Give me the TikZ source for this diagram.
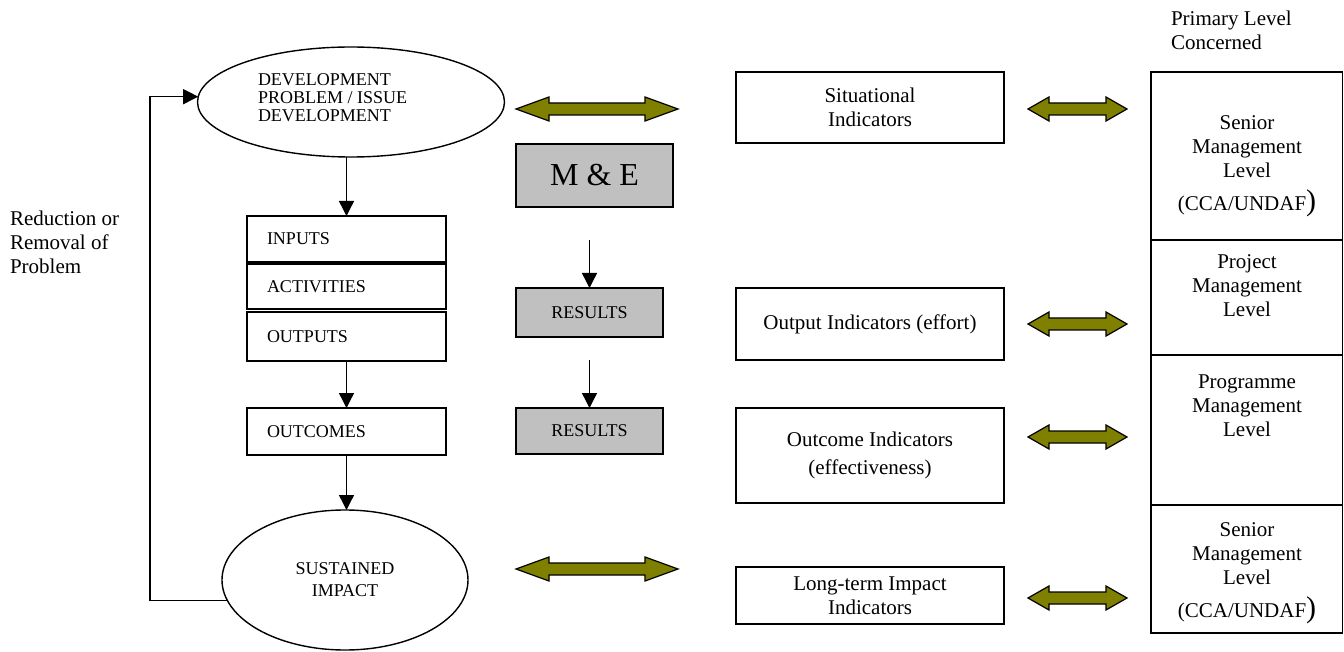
\documentclass[tikz,border=0pt]{standalone}
\usepackage{fontspec}
\setmainfont{Liberation Serif}
\usetikzlibrary{shapes.geometric,arrows.meta}
\definecolor{olivec}{HTML}{808000}
\definecolor{grayc}{HTML}{C0C0C0}
\tikzset{
  pics/dblarrow/.style 2 args={code={
    \draw[dbl] (-#1/2,0) -- (-#1/2+#2,-12) -- (-#1/2+#2,-6) -- (#1/2-#2,-6) -- (#1/2-#2,-12) -- (#1/2,0)
      -- (#1/2-#2,12) -- (#1/2-#2,6) -- (-#1/2+#2,6) -- (-#1/2+#2,12) -- cycle;
  }}
}
\begin{document}
\begin{tikzpicture}[x=1pt,y=-1pt,
  every node/.style={inner sep=0pt, outer sep=0pt},
  txt/.style={font=\fontsize{21}{24}\selectfont, align=center},
  caps/.style={font=\fontsize{18}{18}\selectfont},
  box/.style={draw, line width=1.4pt, rectangle},
  lbox/.style={box, minimum width=199pt, text width=159pt, inner xsep=20pt, align=left, caps},
  gbox/.style={box, fill=grayc},
  ibox/.style={box, minimum width=268pt, txt},
  rbox/.style={box, minimum width=191.5pt},
  ell/.style={draw, ellipse, line width=1.4pt, inner sep=0pt},
  arr/.style={line width=1.4pt, -{Triangle[length=15pt,width=15pt]}},
  fb/.style={line width=1.2pt, -{Triangle[length=15pt,width=15pt]}},
  dbl/.style={draw=black, line width=1.2pt, fill=olivec, line join=miter},
]
\useasboundingbox (0,0) rectangle (1344,652);

% left column
\node[ell, minimum width=307pt, minimum height=110pt] (e1) at (351,102) {};
\node[caps, align=left, anchor=west] (e1t) at (258,98) {DEVELOPMENT\\PROBLEM / ISSUE\\DEVELOPMENT};
\node[lbox, minimum height=46pt] (inputs) at (346.5,239) {INPUTS};
\node[lbox, minimum height=45pt] (acts) at (346.5,286.5) {ACTIVITIES};
\node[lbox, minimum height=49pt] (outputs) at (346.5,336.5) {OUTPUTS};
\node[lbox, minimum height=47pt] (outcomes) at (346.5,431.5) {OUTCOMES};
\node[ell, align=center, font=\fontsize{18}{22}\selectfont, minimum width=246pt, minimum height=140pt] (e2) at (345,580) {SUSTAINED\\IMPACT};

\node[txt, align=left, anchor=west] (red) at (10,242) {\fontsize{21}{23}\selectfont Reduction or\\Removal of\\Problem};

% middle column
\node[gbox, minimum width=157pt, minimum height=63pt, font=\fontsize{32}{32}\selectfont] (me) at (594.5,175.5) {M \& E};
\node[gbox, caps, minimum width=147pt, minimum height=49pt] (res1) at (589.5,312.5) {RESULTS};
\node[gbox, caps, minimum width=147pt, minimum height=46pt] (res2) at (589.5,431) {RESULTS};

% indicators
\node[ibox, minimum height=71pt] (sit) at (870,107.5) {Situational\\Indicators};
\node[ibox, minimum height=72pt] (outi) at (870,324) {Output Indicators (effort)};
\node[ibox, minimum height=95pt, font=\fontsize{21}{28}\selectfont] (outc) at (870,455.5) {Outcome Indicators\\(effectiveness)};
\node[ibox, minimum height=57pt] (lti) at (870,595.5) {Long-term Impact\\Indicators};

% right column
\node[txt, align=left, anchor=west] (prim) at (1171,30.5) {Primary Level\\Concerned};
\node[rbox, minimum height=168pt] (sm1) at (1246.75,156) {};
\node[rbox, minimum height=115pt] (pm) at (1246.75,297.5) {};
\node[rbox, minimum height=150pt] (prm) at (1246.75,430) {};
\node[rbox, minimum height=128pt] (sm2) at (1246.75,569) {};
\node[txt] (sm1t) at (1247,166.5) {Senior\\Management\\Level\\[9pt](CCA/UNDAF{\fontsize{30}{30}\selectfont)}};
\node[txt] (pmt) at (1247,286) {Project\\Management\\Level};
\node[txt] (prmt) at (1247,406) {Programme\\Management\\Level};
\node[txt] (sm2t) at (1247,573) {Senior\\Management\\Level\\[9pt](CCA/UNDAF{\fontsize{30}{30}\selectfont)}};

% connectors
\draw[arr] (inputs.north |- e1.south) -- (inputs.north);
\draw[arr] (outputs.south) -- (outcomes.north);
\draw[arr] (outcomes.south) -- (outcomes.south |- e2.north);
\coordinate (c1) at (589.5,240);
\coordinate (c2) at (589.5,360);
\draw[arr] (c1) -- (res1.north);
\draw[arr] (c2) -- (res2.north);
\coordinate (fbx) at (150,0);
\draw[fb] (e2.190) -- (e2.190 -| fbx) |- (e1.178);

% double arrows
\pic at (597,109) {dblarrow={162}{33}};
\pic at (597,569) {dblarrow={162}{33}};
\pic at (1077.5,109) {dblarrow={99}{21}};
\pic at (1077.5,324) {dblarrow={99}{21}};
\pic at (1077.5,437) {dblarrow={99}{21}};
\pic at (1077.5,598) {dblarrow={99}{21}};
\end{tikzpicture}
\end{document}
